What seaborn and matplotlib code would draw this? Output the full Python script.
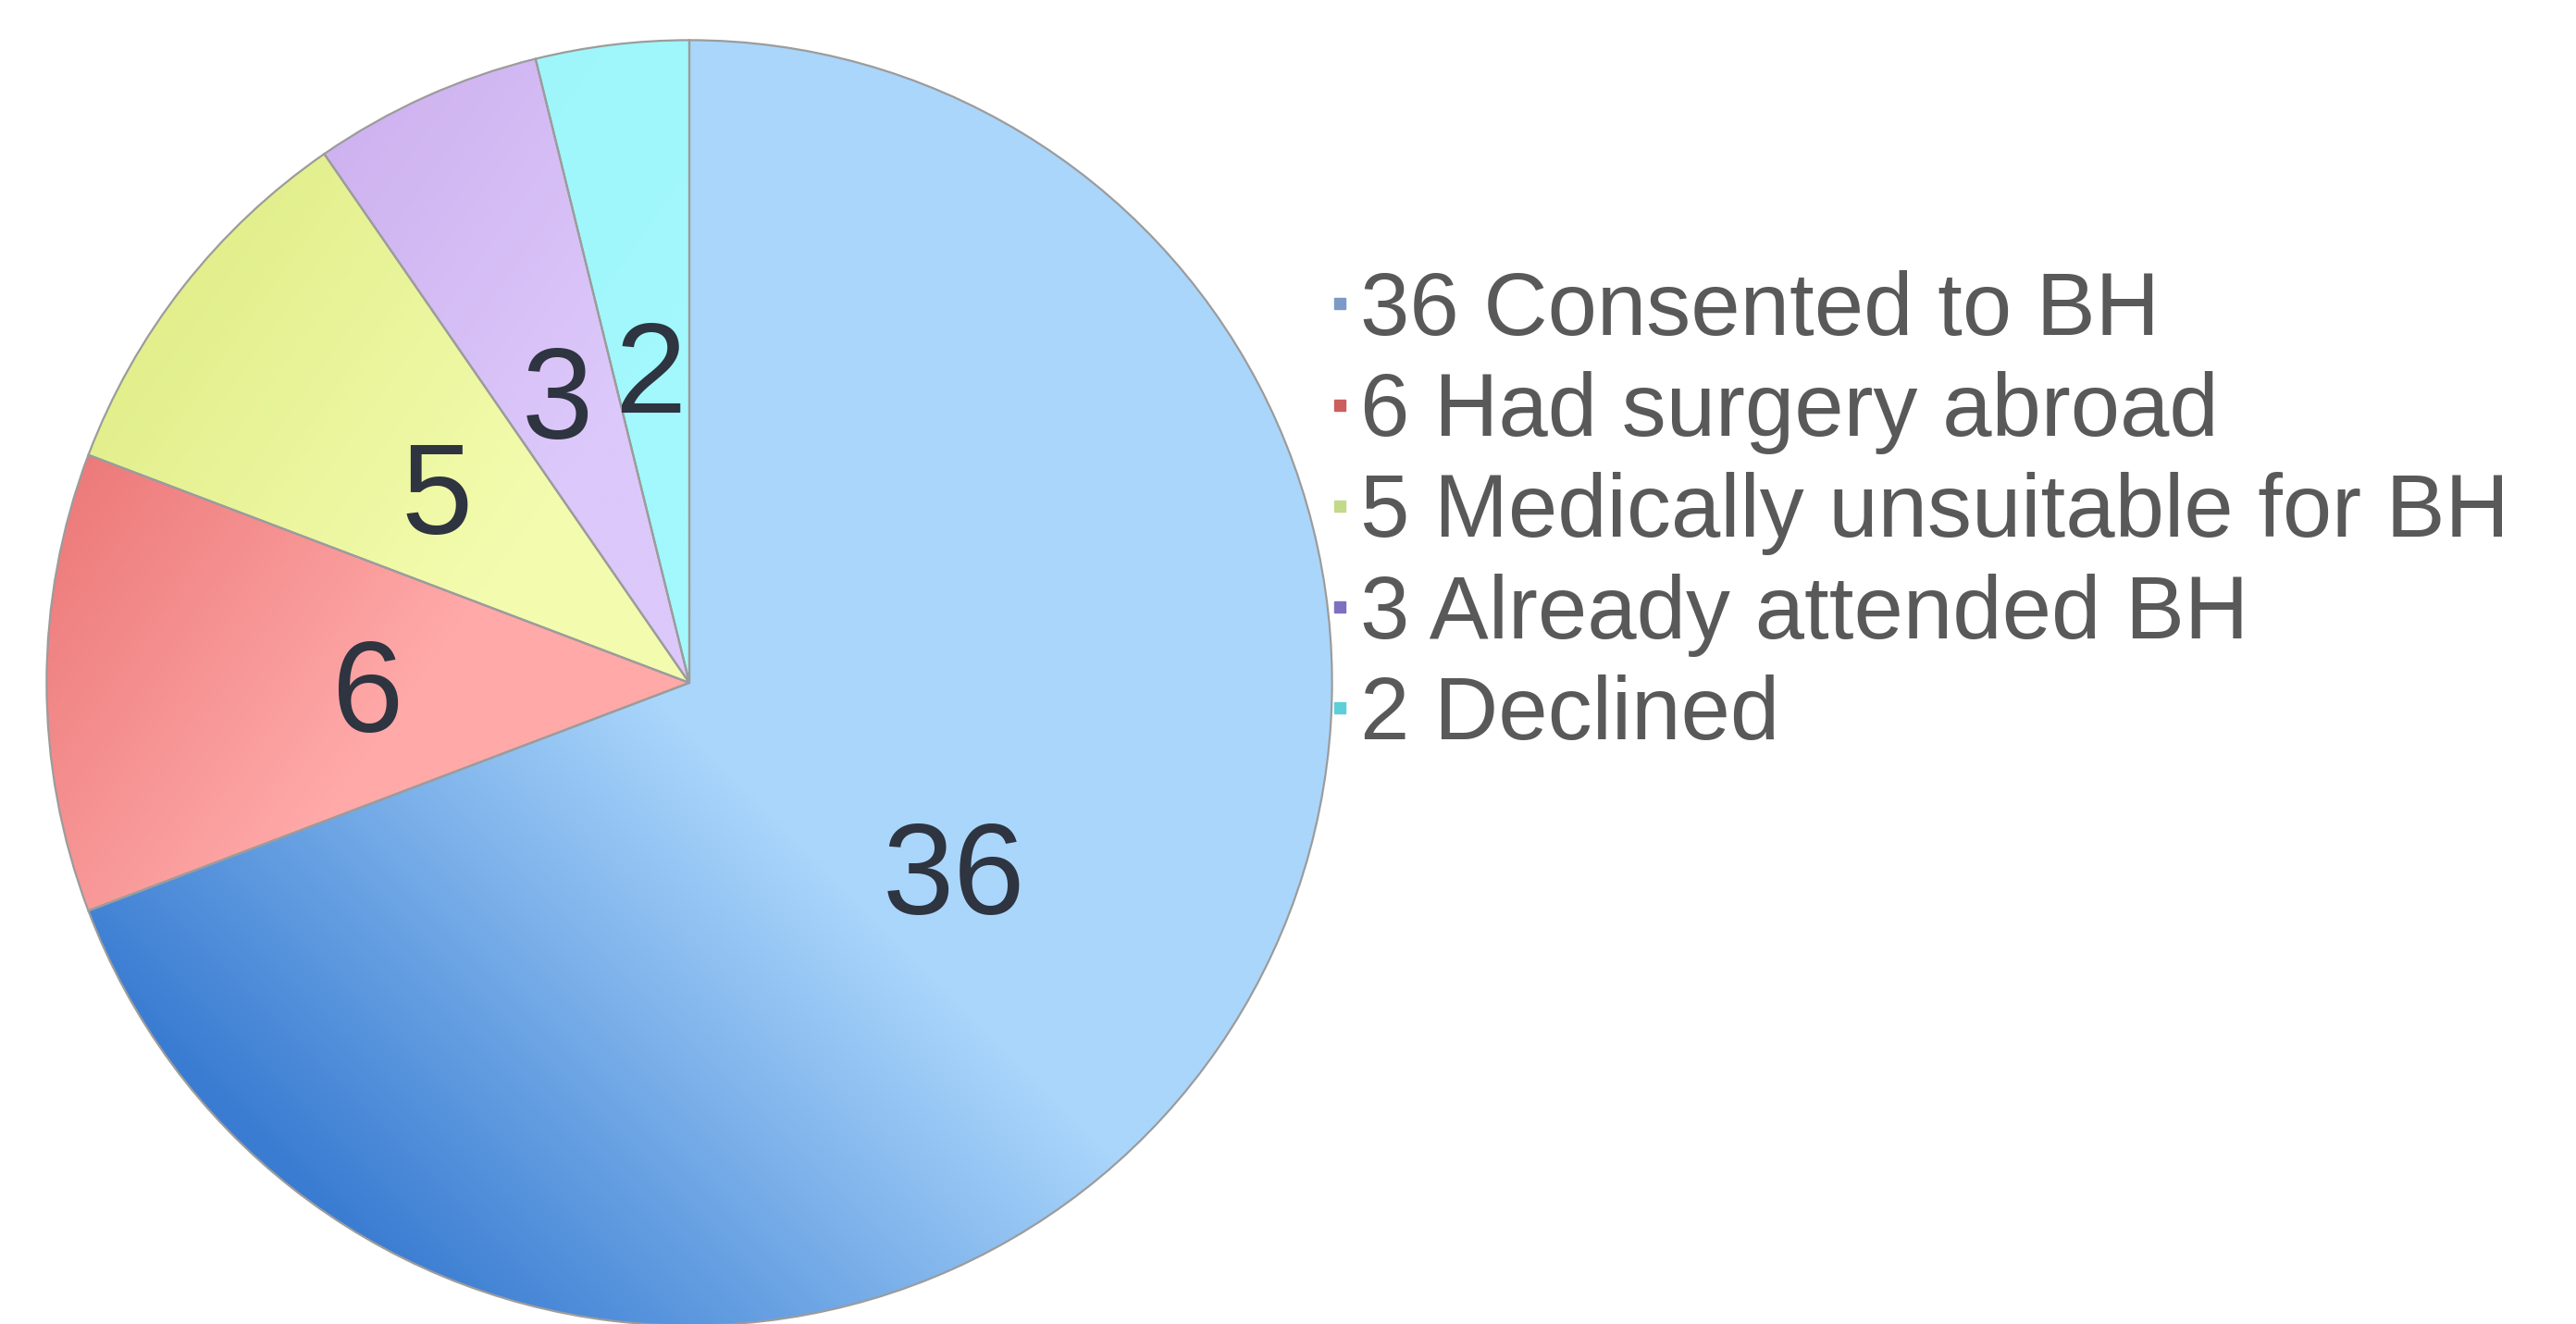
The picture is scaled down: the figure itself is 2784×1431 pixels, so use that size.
import numpy as np
import matplotlib
matplotlib.use("Agg")
import matplotlib.pyplot as plt
import seaborn as sns
from matplotlib.lines import Line2D
from matplotlib.colors import to_rgb
from matplotlib.transforms import ScaledTranslation

# ---- data ----
categories = ["Consented to BH", "Had surgery abroad", "Medically unsuitable for BH",
              "Already attended BH", "Declined"]
values = [36, 6, 5, 3, 2]
legend_labels = [f"{v} {c}" for v, c in zip(values, categories)]

# ---- style ----
sns.set_theme(style="white")
plt.rcParams['font.family'] = ['Liberation Sans', 'DejaVu Sans']

# gradient colours per wedge: (dark, light)
grad_dark = ["#3A7CD2", "#EC7878", "#E2EF8C", "#CDB0EF", "#9CF5FA"]
grad_light = ["#AAD6FB", "#FFA9A9", "#F3FCAE", "#DCC8FA", "#A2F8FC"]
grad_dir = [45, -35, -35, -35, -35]
grad_range = [(-0.98, -0.05), (-1.0, -0.35), (-1.0, -0.35), (-1.0, -0.35), (-1.0, -0.35)]
legend_colors = ["#7B9BC6", "#CC5E5E", "#C3DA8A", "#7F6FC0", "#5CCFD8"]

W, H = 2784, 1431
fig = plt.figure(figsize=(W / 100, H / 100), dpi=100)
cx, cy, R = 745, 738, 696
ax = fig.add_axes([(cx - R) / W, (H - cy - R) / H, 2 * R / W, 2 * R / H])

total = sum(values)
wedges, texts, autotexts = ax.pie(
    values, startangle=90, counterclock=False,
    autopct=lambda p: f"{int(round(p * total / 100))}", pctdistance=0.5,
    wedgeprops=dict(edgecolor="#9C9C9C", linewidth=1.6),
    textprops=dict(fontsize=100, color="#2E3440"))

# gradient fills clipped to wedges
n = 600
xs = np.linspace(-1, 1, n)
X, Y = np.meshgrid(xs, xs)
for w, d, l, ang, (s0, s1) in zip(wedges, grad_dark, grad_light, grad_dir, grad_range):
    th = np.deg2rad(ang)
    s = X * np.cos(th) + Y * np.sin(th)
    t = np.clip((s - s0) / (s1 - s0), 0, 1)[..., None]
    img = np.array(to_rgb(d)) * (1 - t) + np.array(to_rgb(l)) * t
    im = ax.imshow(img, extent=(-1, 1, -1, 1), origin="lower", zorder=1, interpolation="bilinear")
    im.set_clip_path(w)
    w.set_facecolor("none")
    w.set_zorder(2)

shift = ScaledTranslation(0, -17 / 100, fig.dpi_scale_trans)
for t in autotexts:
    t.set_zorder(3)
    t.set_transform(ax.transData + shift)

ax.set_xlim(-1.002, 1.002)
ax.set_ylim(-1.002, 1.002)
ax.set_aspect("equal")
ax.axis("off")

handles = [Line2D([0], [0], marker="s", linestyle="none", markersize=9,
                  markerfacecolor=c, markeredgecolor=c) for c in legend_colors]
leg = fig.legend(handles, legend_labels, loc="upper left",
                 bbox_to_anchor=(1434 / W, 1 - 292 / H), frameon=False,
                 fontsize=69, labelspacing=0.2, handlelength=0.3,
                 handletextpad=0.08, borderpad=0, borderaxespad=0,
                 labelcolor="#595959")

fig.savefig("out.png", dpi=100, facecolor="white")
